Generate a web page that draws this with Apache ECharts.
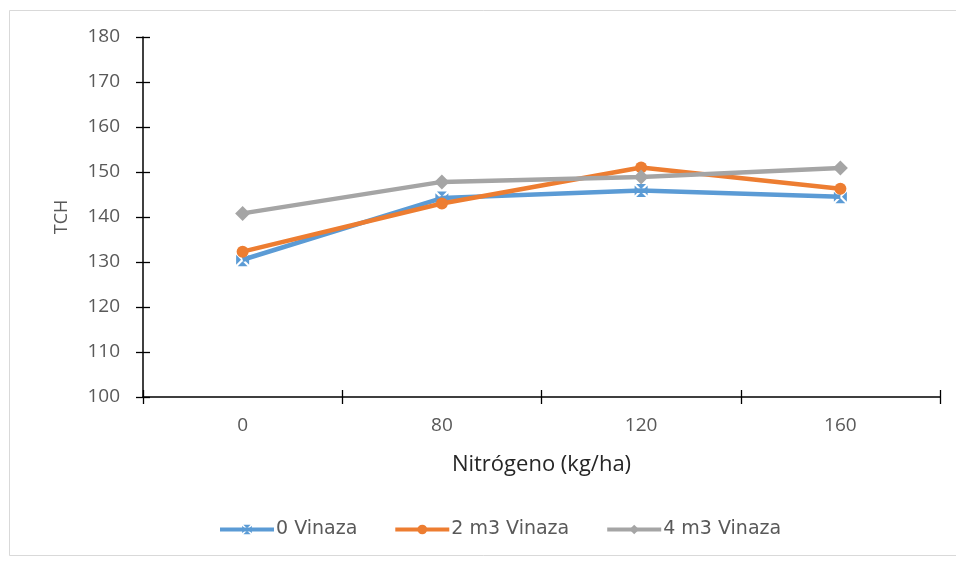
<!DOCTYPE html>
<html>
<head>
<meta charset="utf-8">
<style>
  html, body { margin: 0; padding: 0; background: #ffffff; }
  #chart { width: 956px; height: 561px; }
</style>
<script src="https://cdn.jsdelivr.net/npm/echarts@6/dist/echarts.min.js"></script>
</head>
<body>
<div id="chart"></div>
<script>
// Nitrogen doses (kg/ha) on the category axis
const categories = ['0', '80', '120', '160'];

// TCH per vinasse dose
const vinaza0 = [130.5, 144.2, 145.9, 144.5];
const vinaza2 = [132.3, 143.0, 151.0, 146.3];
const vinaza4 = [140.8, 147.8, 148.9, 150.9];

const seriesNames = ['0 Vinaza', '2 m3 Vinaza', '4 m3 Vinaza'];
const yTicks = [100, 110, 120, 130, 140, 150, 160, 170, 180];

// square marker with a white cross cut out (four triangles)
const crossSquare = 'path://M1.2,0L8.8,0L5,3.8Z M10,1.2L10,8.8L6.2,5Z M1.2,10L8.8,10L5,6.2Z M0,1.2L0,8.8L3.8,5Z';

const chart = echarts.init(document.getElementById('chart'));
const labelFont = { color: '#595959', fontSize: 19, fontFamily: 'Open Sans' };

chart.setOption({
  animation: false,
  backgroundColor: '#ffffff',
  graphic: [{
    type: 'rect',
    shape: { x: 9.5, y: 10.5, width: 960, height: 545 },
    style: { fill: 'none', stroke: '#d9d9d9', lineWidth: 1 },
    silent: true
  }],
  grid: { left: 143, right: 16, top: 37, bottom: 164 },
  legend: {
    bottom: 17,
    left: 213,
    itemWidth: 54,
    itemHeight: 12,
    itemGap: 36,
    lineStyle: { width: 4 },
    textStyle: { color: '#595959', fontSize: 19, fontFamily: 'DejaVu Sans', padding: [0, 0, 0, -3] },
    data: seriesNames
  },
  xAxis: [{
    type: 'category',
    data: categories,
    boundaryGap: true,
    name: 'Nitrógeno (kg/ha)',
    nameLocation: 'middle',
    nameGap: 57,
    nameTextStyle: { color: '#262626', fontSize: 22, fontFamily: 'Open Sans' },
    axisLine: { lineStyle: { color: '#000', width: 1.5 } },
    axisTick: { show: true, length: 7, lineStyle: { color: '#000', width: 1.3 } },
    axisLabel: Object.assign({ margin: 19 }, labelFont),
    splitLine: { show: false }
  }, {
    type: 'category',
    data: categories,
    position: 'bottom',
    boundaryGap: true,
    axisLine: { show: false },
    axisTick: { show: true, inside: true, length: 7, lineStyle: { color: '#000', width: 1.3 } },
    axisLabel: { show: false },
    splitLine: { show: false }
  }],
  yAxis: [{
    type: 'value',
    min: yTicks[0],
    max: yTicks[yTicks.length - 1],
    interval: 10,
    name: 'TCH',
    nameLocation: 'middle',
    nameGap: 72,
    nameRotate: 90,
    nameTextStyle: { color: '#595959', fontSize: 18, fontFamily: 'Open Sans' },
    axisLine: { show: true, lineStyle: { color: '#000', width: 1.5 } },
    axisTick: { show: true, length: 7, lineStyle: { color: '#000', width: 1.3 } },
    axisLabel: Object.assign({ margin: 23 }, labelFont),
    splitLine: { show: false }
  }, {
    type: 'value',
    position: 'left',
    min: yTicks[0],
    max: yTicks[yTicks.length - 1],
    interval: 10,
    axisLine: { show: false },
    axisTick: { show: true, inside: true, length: 7, lineStyle: { color: '#000', width: 1.3 } },
    axisLabel: { show: false },
    splitLine: { show: false }
  }],
  series: [{
    name: seriesNames[0],
    type: 'line',
    data: vinaza0,
    symbol: crossSquare,
    symbolSize: 13,
    lineStyle: { color: '#5B9BD5', width: 4.5 },
    itemStyle: { color: '#5B9BD5' },
    z: 3
  }, {
    name: seriesNames[1],
    type: 'line',
    data: vinaza2,
    symbol: 'circle',
    symbolSize: 12,
    lineStyle: { color: '#ED7D31', width: 4.5 },
    itemStyle: { color: '#ED7D31' },
    z: 4
  }, {
    name: seriesNames[2],
    type: 'line',
    data: vinaza4,
    symbol: 'diamond',
    symbolSize: 15,
    lineStyle: { color: '#A5A5A5', width: 4.5 },
    itemStyle: { color: '#A5A5A5' },
    z: 5
  }]
});
</script>
</body>
</html>
